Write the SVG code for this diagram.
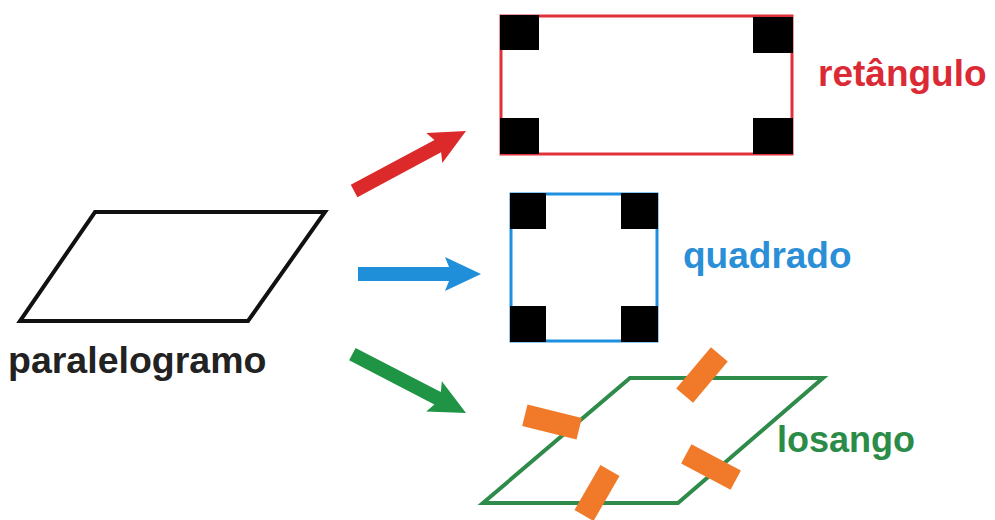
<svg xmlns="http://www.w3.org/2000/svg" width="995" height="520" viewBox="0 0 995 520">
<style>
.lbl{font-family:"Liberation Sans",Arial,sans-serif;font-weight:bold;font-size:36px}
.corner{fill:#000}
.tick{fill:#f07a2a}
</style>
<rect width="995" height="520" fill="#fff"/>
<g id="paralelogramo">
<polygon points="95,212 325,212 248,321 20,321" fill="none" stroke="#111" stroke-width="4" stroke-linejoin="miter"/>
<text class="lbl" x="8" y="373" fill="#222" style="font-size:37.5px">paralelogramo</text>
</g>
<g id="retangulo">
<rect x="501" y="16" width="291" height="138" fill="none" stroke="#e0303a" stroke-width="3"/>
<rect class="corner" x="500" y="15" width="39" height="35"/>
<rect class="corner" x="753" y="17" width="40" height="36"/>
<rect class="corner" x="500" y="118" width="39" height="36"/>
<rect class="corner" x="753" y="118" width="40" height="36"/>
<text class="lbl" x="818" y="86" fill="#dc2a34" style="font-size:37px">retângulo</text>
</g>
<g id="quadrado">
<rect x="511" y="194" width="146" height="147" fill="none" stroke="#1e90e0" stroke-width="3"/>
<rect class="corner" x="510" y="193" width="36" height="36"/>
<rect class="corner" x="621" y="193" width="37" height="36"/>
<rect class="corner" x="510" y="306" width="36" height="36"/>
<rect class="corner" x="621" y="306" width="37" height="36"/>
<text class="lbl" x="683" y="268" fill="#2a8fd6" style="font-size:37px">quadrado</text>
</g>
<g id="losango">
<polygon points="630,378 823,378 678,503 483,503" fill="none" stroke="#2e8b4a" stroke-width="4"/>
<rect class="tick" x="-27" y="-11" width="54" height="22" transform="translate(702,375) rotate(-50)"/>
<rect class="tick" x="-28" y="-11" width="56" height="22" transform="translate(552,422) rotate(14)"/>
<rect class="tick" x="-26" y="-11" width="52" height="22" transform="translate(597,493) rotate(-60)"/>
<rect class="tick" x="-28" y="-11" width="56" height="22" transform="translate(711,467) rotate(28)"/>
<text class="lbl" x="777" y="452" fill="#2a8c47">losango</text>
</g>
<g id="connectors">
<path d="M0,0 L-36,-17 L-32,-7 L-127,-7 L-127,7 L-32,7 L-36,17 Z" transform="translate(466,131) rotate(-28.2)" fill="#dc2a2a"/>
<path d="M0,0 L-36,-17 L-32,-7 L-123,-7 L-123,7 L-32,7 L-36,17 Z" transform="translate(481,274)" fill="#1e8fd8"/>
<path d="M0,0 L-36,-17 L-32,-7 L-128,-7 L-128,7 L-32,7 L-36,17 Z" transform="translate(466,413) rotate(27.4)" fill="#1e9444"/>
</g>
</svg>
